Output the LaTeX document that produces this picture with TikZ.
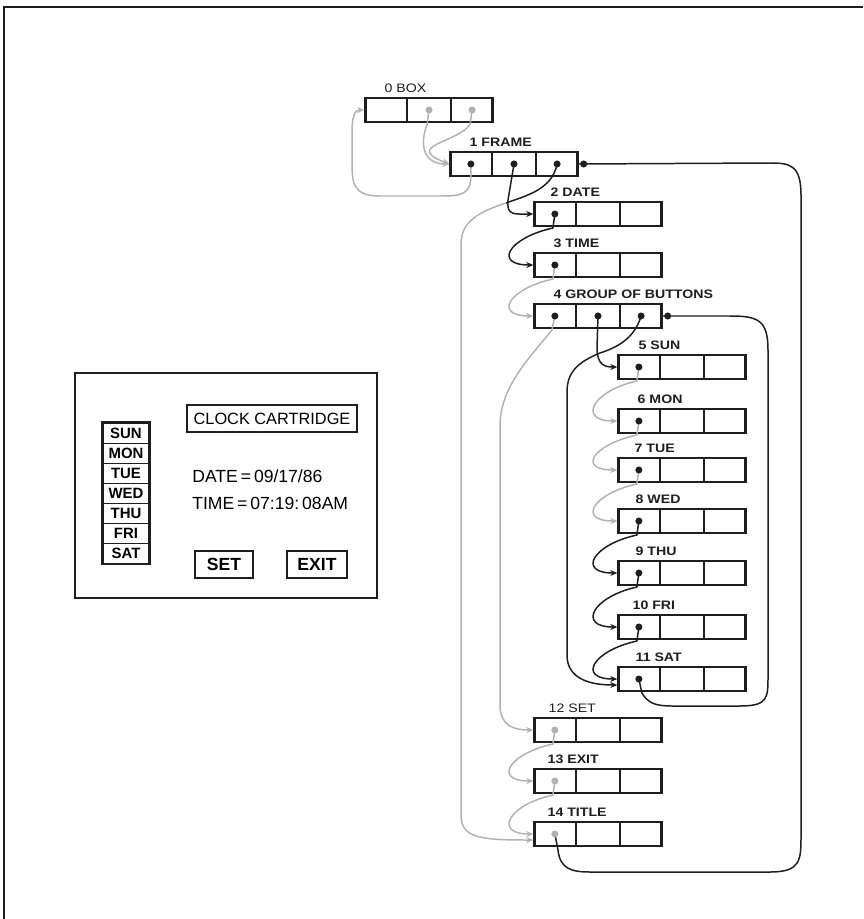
\documentclass[tikz,border=0pt]{standalone}
\usepackage{fontspec}
\setmainfont{Liberation Sans}
\newfontfamily\reclabelfont[FakeStretch=1.15]{Liberation Sans}
\usetikzlibrary{calc,arrows.meta}
\definecolor{ink}{RGB}{30,30,30}
\definecolor{fade}{RGB}{178,178,178}

\begin{document}
\begin{tikzpicture}[x=0.02cm,y=-0.02cm,
  record/.style={draw=ink,line width=1.35pt,minimum width=2.54cm,minimum height=0.48cm,inner sep=0pt},
  reclabel/.style={font=\reclabelfont\fontsize{7}{8}\selectfont\bfseries,anchor=base west,inner sep=0pt,text=ink},
  bullet/.style={circle,fill=#1,inner sep=0pt,minimum size=4pt},
  bullet/.default=ink,
  conn/.style={draw=#1,line width=0.85pt,-{Stealth[length=4pt,width=3.4pt]}},
  conn/.default=ink,
  nextlink/.style={conn=#1,to path={-- ++(-2,14) .. controls +(-45,10) and +(-40,0) .. (\tikztotarget)}},
  nextlink/.default=ink,
  daycell/.style={draw=ink,line width=0.6pt,minimum width=0.92cm,minimum height=0.402cm,inner sep=0pt,
    font=\fontsize{8.5}{9}\selectfont\bfseries},
  button/.style={draw=ink,line width=1.3pt,minimum height=0.54cm,inner sep=0pt,font=\fontsize{10}{11}\selectfont\bfseries},
  screentext/.style={anchor=west,inner sep=0pt,font=\fontsize{10}{11}\selectfont}]
  \useasboundingbox (0,0) rectangle (863,919);
  % outer frame
  \draw[ink,line width=1.1pt] (4,919) -- (4,7) -- (863,7);

  % records of the object list
  \foreach \n/\x/\y/\o/\t in {
    r0/429/110/20/{\mdseries 0 BOX}, r1/514/164/20/1 FRAME,
    r2/598/214/17/2 DATE, r3/598/265/20/3 TIME, r4/598/316/20/4 GROUP OF BUTTONS,
    r5/682/367/21/5 SUN, r6/682/421/20/6 MON, r7/682/470/17/7 TUE, r8/682/521/18/8 WED,
    r9/682/573/18/9 THU, r10/682/627/15/10 FRI, r11/682/679/18/11 SAT,
    r12/598/730/15/{\mdseries 12 SET}, r13/598/781/14/13 EXIT, r14/598/834/14/14 TITLE} {
    \node[record] (\n) at (\x,\y) {};
    \draw[ink,line width=1.1pt] ($(\n.south west)!1/3!(\n.south east)$) -- ($(\n.north west)!1/3!(\n.north east)$)
      ($(\n.south west)!2/3!(\n.south east)$) -- ($(\n.north west)!2/3!(\n.north east)$);
    \node[reclabel] at ($(\n.north west)+(\o,-4)$) {\t};
    \coordinate (\n-a) at ($(\n.west)!1/6!(\n.east)$);
    \coordinate (\n-b) at ($(\n.west)!1/2!(\n.east)$);
    \coordinate (\n-c) at ($(\n.west)!5/6!(\n.east)$);
  }

  % box -> frame
  \draw[conn=fade] (r0-b) -- ++(-2,15) .. controls (420,142) and (422,164) .. (r1.west);
  \draw[conn=fade] (r0-c) -- ++(-2,14) .. controls (460,142) and (402,146) .. (r1.west);
  % frame -> box
  \draw[conn=fade] (r1-a) -- ++(0,14) .. controls (470,195) and (460,196) .. (440,196) -- (380,196)
    .. controls (352,196) and (352,182) .. (352,160) -- (352,132) .. controls (352,113) and (356,110) .. (r0.west);
  % frame -> date, frame -> title
  \draw[conn] (r1-b) -- (508,200) .. controls (506,216) and (515,214) .. (r2.west);
  \coordinate (j1) at (506,203);
  \draw[ink,line width=0.85pt] (r1-c) .. controls (552,190) and (525,196) .. (j1);
  \draw[conn=fade] (j1) .. controls (472,214) and (461,225) .. (461,245) -- (461,815)
    .. controls (461,838) and (480,840) .. ($(r14.west)+(0,6)$);

  % siblings
  \draw[nextlink] (r2-a) to (r3.west);
  \draw[nextlink=fade] (r3-a) to (r4.west);
  \draw[conn=fade] (r4-a) -- ++(-3,14) .. controls (535,352) and (500,385) .. (500,425) -- (500,705)
    .. controls (500,726) and (514,730) .. (r12.west);
  \draw[nextlink=fade] (r12-a) to (r13.west);
  \draw[nextlink=fade] (r13-a) to (r14.west);

  % group of buttons -> sun, sat
  \draw[conn] (r4-b) -- (597,348) .. controls (597,366) and (606,367) .. (r5.west);
  \coordinate (j4) at (600,353);
  \draw[ink,line width=0.85pt] (r4-c) .. controls (634,340) and (615,348) .. (j4);
  \draw[conn] (j4) .. controls (578,362) and (567,372) .. (567,392) -- (567,655)
    .. controls (567,680) and (592,685) .. ($(r11.west)+(0,6)$);

  % days
  \draw[nextlink=fade] (r5-a) to (r6.west);
  \draw[nextlink=fade] (r6-a) to (r7.west);
  \draw[nextlink=fade] (r7-a) to (r8.west);
  \draw[nextlink] (r8-a) to (r9.west);
  \draw[nextlink] (r9-a) to (r10.west);
  \draw[nextlink] (r10-a) to (r11.west);

  % back to the parents
  \draw[ink,line width=0.85pt] (r11-a) -- ++(3,14) .. controls (648,703) and (655,706) .. (672,706) -- (740,706)
    .. controls (768,706) and (768,698) .. (768,676) -- (768,350) .. controls (768,320) and (758,316) .. (730,316) -- (r4.east);
  \node[bullet] at ($(r4.east)+(5,0)$) {};
  \draw[ink,line width=0.85pt] (r14-a) -- (558,850) .. controls (560,868) and (570,872) .. (590,872) -- (770,872)
    .. controls (801,872) and (801,860) .. (801,835) -- (801,195) .. controls (801,165) and (790,163) .. (770,163) -- (r1.east);
  \node[bullet] at ($(r1.east)+(5,0)$) {};

  % pointer dots
  \foreach \c in {r0-b,r0-c,r12-a,r13-a,r14-a}
    \node[bullet=fade] at (\c) {};
  \foreach \c in {r1-a,r1-b,r1-c,r2-a,r3-a,r4-a,r4-b,r4-c,r5-a,r6-a,r7-a,r8-a,r9-a,r10-a,r11-a}
    \node[bullet] at (\c) {};

  % the screen
  \node[draw=ink,line width=1.3pt,minimum width=6.04cm,minimum height=4.5cm] (panel) at (226,485.5) {};
  \node[draw=ink,line width=1.1pt,minimum width=3.4cm,minimum height=0.54cm,inner sep=0pt,
    font=\fontsize{9.3}{10}\selectfont] (title) at (272,418.5) {CLOCK CARTRIDGE};
  \foreach \d [count=\i] in {SUN,MON,TUE,WED,THU,FRI,SAT}
    \node[daycell] (d\i) at (126,{433+20.1*(\i-1)}) {\d};
  \draw[ink,line width=1.3pt] (d1.north west) rectangle (d7.south east);
  \node[screentext] (date) at (192,476) {DATE\,=\,09/17/86};
  \node[screentext] (time) at (192,503) {TIME\,=\,07:19:\,08AM};
  \node[button,minimum width=1.16cm] (set) at (224,564.5) {SET};
  \node[button,minimum width=1.2cm] (exit) at (317,564.5) {EXIT};
\end{tikzpicture}
\end{document}
